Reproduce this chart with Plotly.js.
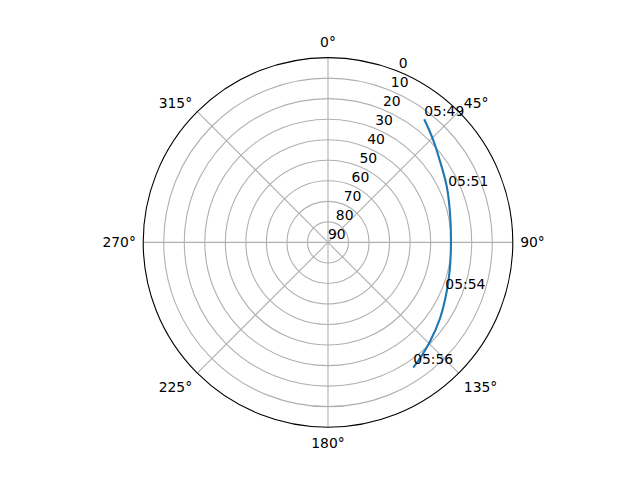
<!DOCTYPE html>
<html>
<head>
<meta charset="utf-8">
<script src="https://cdn.plot.ly/plotly-3.0.1.min.js"></script>
<style>html,body{margin:0;padding:0;background:#fff;}#chart{width:640px;height:480px;}</style>
</head>
<body>
<div id="chart"></div>
<script>
// Satellite pass track: azimuth (deg, clockwise from north) and elevation (deg)
var trackAzimuth   = [38.0, 45.8, 56.3, 64.9, 76.6, 88.9, 102.0, 112.6, 124.1, 134.2, 141.6, 145.8];
var trackElevation = [13.9, 18.5, 23.5, 26.1, 28.9, 30.1, 29.3, 27.4, 24.1, 20.7, 17.9, 16.2];

// Time labels along the pass
var timeLabels    = ["05:49", "05:51", "05:54", "05:56"];
var timeAzimuth   = [38.0, 66.2, 113.0, 145.8];
var timeElevation = [13.9, 26.0, 27.9, 16.2];

// Axis tick labels
var radialTicks  = [0, 10, 20, 30, 40, 50, 60, 70, 80, 90];
var angularTicks = [0, 45, 90, 135, 180, 225, 270, 315];
var rLabelAngle = 22.5;

var font = {family: "DejaVu Sans", size: 13.9, color: "#000"};

var traces = [
  {
    type: "scatterpolar", mode: "lines",
    theta: trackAzimuth, r: trackElevation,
    line: {color: "#1f77b4", width: 2.1, shape: "spline", smoothing: 1},
    hoverinfo: "skip", showlegend: false
  },
  {
    type: "scatterpolar", mode: "text",
    theta: timeAzimuth, r: timeElevation,
    text: timeLabels, textposition: "top right",
    textfont: font, cliponaxis: false,
    hoverinfo: "skip", showlegend: false
  },
  {
    type: "scatterpolar", mode: "text",
    theta: radialTicks.map(function(){ return rLabelAngle; }), r: radialTicks,
    text: radialTicks.map(String), textposition: "top right",
    textfont: font, cliponaxis: false,
    hoverinfo: "skip", showlegend: false
  }
];

var layout = {
  width: 640, height: 480,
  margin: {l: 0, r: 0, t: 0, b: 0},
  paper_bgcolor: "#fff",
  font: font,
  showlegend: false,
  polar: {
    domain: {x: [0.125, 0.9], y: [0.11, 0.88]},
    bgcolor: "#fff",
    angularaxis: {
      rotation: 90, direction: "clockwise",
      tickmode: "array", tickvals: angularTicks,
      ticktext: angularTicks.map(function(v){ return v + "°"; }),
      ticks: "outside", ticklen: 4, tickcolor: "rgba(0,0,0,0)",
      showline: true, linecolor: "#000", linewidth: 1.1,
      showgrid: true, gridcolor: "#b0b0b0", gridwidth: 1.1,
      tickfont: font
    },
    radialaxis: {
      range: [90, 0],
      tickmode: "array", tickvals: radialTicks,
      showticklabels: false, ticks: "",
      showline: false,
      showgrid: true, gridcolor: "#b0b0b0", gridwidth: 1.1
    }
  }
};

Plotly.newPlot("chart", traces, layout, {staticPlot: true, displayModeBar: false});
</script>
</body>
</html>
